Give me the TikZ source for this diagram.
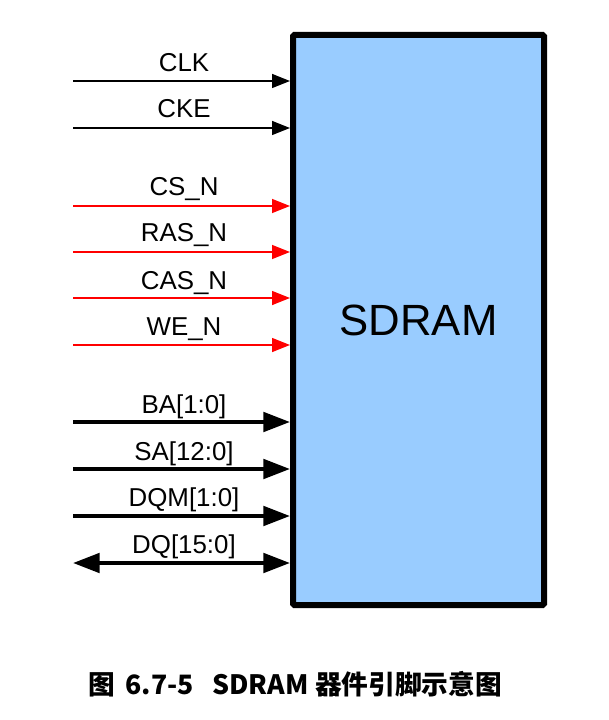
\documentclass[tikz,border=0pt]{standalone}
\usepackage{fontspec}
\setmainfont{Liberation Sans}
\newfontfamily\cjk{Noto Sans CJK SC}
\usetikzlibrary{arrows.meta}
\definecolor{boxblue}{HTML}{99CCFF}
\tikzset{
  sig/.style={line width=1.1pt, -{Triangle[length=13.5pt,width=10.5pt]}},
  bus/.style={line width=3pt, -{Triangle[length=20pt,width=14.5pt]}},
  biBus/.style={line width=3pt, {Triangle[length=20pt,width=14.5pt]}-{Triangle[length=20pt,width=14.5pt]}},
  lbl/.style={anchor=base, font=\fontsize{19.4}{21}\selectfont, inner sep=0pt},
}
\begin{document}
\begin{tikzpicture}[x=0.75pt,y=-0.75pt]
\useasboundingbox (0,0) rectangle (608,720);
\node[draw, line width=4.5pt, fill=boxblue, rounded corners=1pt,
      minimum width=188.25pt, minimum height=427.5pt, inner sep=0pt,
      font=\fontsize{32.8}{36}\selectfont] (box) at (418.5,320) {SDRAM};
% start coordinates
\coordinate (s1) at (73,81);
\coordinate (s2) at (73,128);
\coordinate (s3) at (73,206);
\coordinate (s4) at (73,252);
\coordinate (s5) at (73,298);
\coordinate (s6) at (73,345);
\coordinate (s7) at (73,422);
\coordinate (s8) at (73,469);
\coordinate (s9) at (73,516);
\coordinate (s10) at (73,563);
\draw[sig] (s1) -- (s1 -| box.west);
\draw[sig] (s2) -- (s2 -| box.west);
\draw[sig, red] (s3) -- (s3 -| box.west);
\draw[sig, red] (s4) -- (s4 -| box.west);
\draw[sig, red] (s5) -- (s5 -| box.west);
\draw[sig, red] (s6) -- (s6 -| box.west);
\draw[bus] (s7) -- (s7 -| box.west);
\draw[bus] (s8) -- (s8 -| box.west);
\draw[bus] (s9) -- (s9 -| box.west);
\draw[biBus] (s10) -- (s10 -| box.west);
% labels
\node[lbl] (l1) at (184,72) {CLK};
\node[lbl] (l2) at (184,118) {CKE};
\node[lbl] (l3) at (184,196) {CS\_N};
\node[lbl] (l4) at (184,242) {RAS\_N};
\node[lbl] (l5) at (184,289) {CAS\_N};
\node[lbl] (l6) at (184,335) {WE\_N};
\node[lbl] (l7) at (184,413) {BA[1:0]};
\node[lbl] (l8) at (184,460) {SA[12:0]};
\node[lbl] (l9) at (184,506) {DQM[1:0]};
\node[lbl] (l10) at (184,553) {DQ[15:0]};
% caption
\node[font=\cjk\bfseries\fontsize{20}{22}\selectfont, inner sep=0pt] (cap) at (295,684) {图\hspace{8pt}6.7-5\hspace{14pt}SDRAM\hspace{5pt}器件引脚示意图};
\end{tikzpicture}
\end{document}
